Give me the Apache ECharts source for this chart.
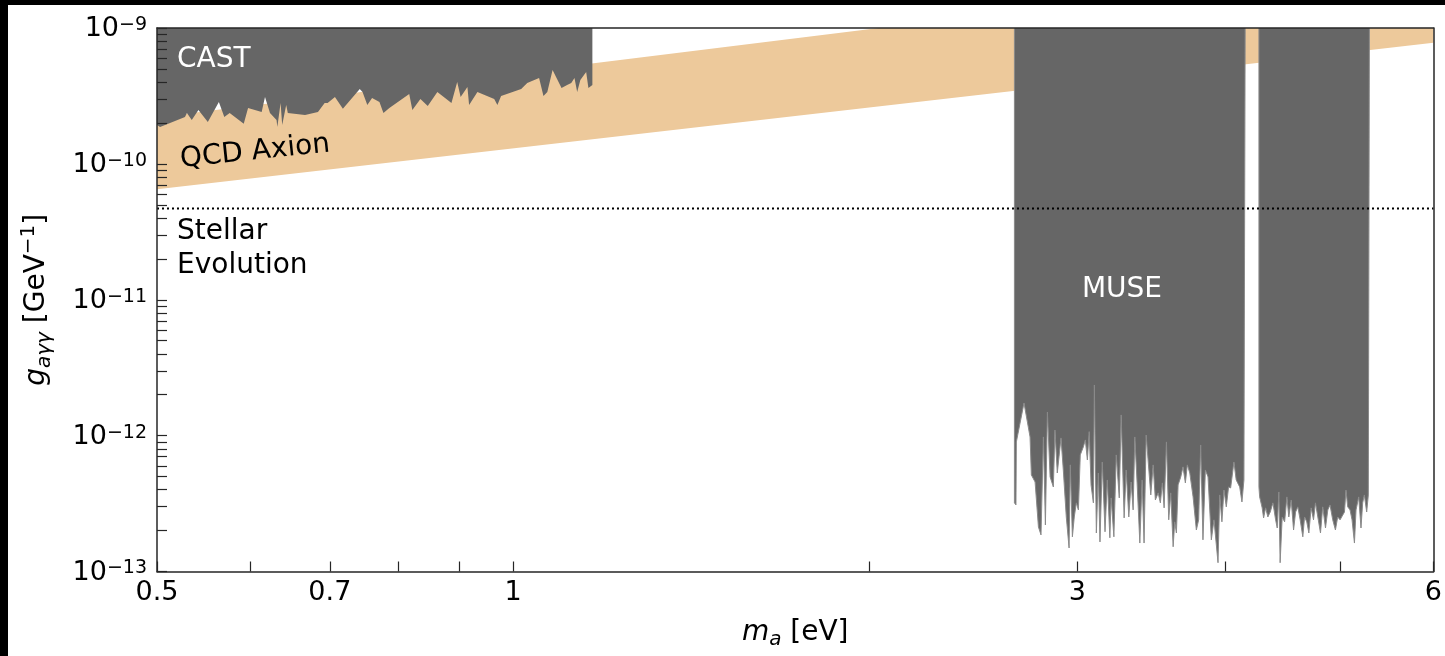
<!DOCTYPE html>
<html lang="en">
<head>
<meta charset="UTF-8">
<title>Axion limits</title>
<script src="https://cdn.jsdelivr.net/npm/echarts@6/dist/echarts.min.js"></script>
<style>
    html, body { margin: 0; padding: 0; background: #000; }
    #main { position: absolute; left: 8px; top: 5px; width: 1437px; height: 651px; background: #fff; }
</style>
</head>
<body>
<div id="main"></div>
<script>
// CAST lower edge: mass [eV], coupling [x1e-10 GeV^-1]
var castMass = [0.5, 0.503, 0.528, 0.530, 0.535, 0.542, 0.552, 0.564, 0.570, 0.576,
    0.592, 0.597, 0.613, 0.617, 0.623, 0.631, 0.632, 0.636, 0.638, 0.643,
    0.645, 0.667, 0.684, 0.693, 0.697, 0.707, 0.718, 0.742, 0.746, 0.753,
    0.760, 0.771, 0.777, 0.786, 0.817, 0.822, 0.835, 0.847, 0.863, 0.887,
    0.897, 0.903, 0.915, 0.918, 0.933, 0.964, 0.970, 0.977, 1.016, 1.028,
    1.052, 1.061, 1.069, 1.080, 1.099, 1.111, 1.120, 1.127, 1.133, 1.140,
    1.153, 1.158, 1.167];
var castG = [1.93, 1.87, 2.21, 2.37, 2.10, 2.49, 2.03, 2.85, 2.21, 2.37,
    1.97, 2.58, 2.41, 3.11, 2.37, 2.10, 1.87, 2.81, 1.93, 2.71,
    2.37, 2.29, 2.41, 2.81, 2.81, 3.11, 2.54, 3.56, 3.38, 2.71,
    3.05, 2.85, 2.37, 2.58, 3.27, 2.49, 3.00, 2.67, 3.38, 2.81,
    4.01, 3.11, 3.68, 2.71, 3.38, 3.00, 2.71, 3.16, 3.56, 3.94,
    4.29, 3.16, 3.38, 4.91, 3.62, 3.81, 3.94, 4.29, 3.38, 4.14,
    4.75, 3.62, 3.81];

// MUSE lower edge, first window: mass [eV], coupling [x1e-13 GeV^-1]
var museAMass = [2.654, 2.662, 2.664, 2.704, 2.736, 2.743, 2.763, 2.781, 2.795, 2.808,
    2.819, 2.830, 2.845, 2.863, 2.872, 2.885, 2.906, 2.919, 2.936, 2.952,
    2.959, 2.971, 2.982, 2.994, 3.006, 3.017, 3.035, 3.047, 3.059, 3.070,
    3.081, 3.095, 3.101, 3.113, 3.125, 3.135, 3.149, 3.166, 3.180, 3.196,
    3.204, 3.221, 3.236, 3.255, 3.267, 3.286, 3.299, 3.316, 3.331, 3.344,
    3.355, 3.370, 3.388, 3.403, 3.416, 3.430, 3.448, 3.461, 3.477, 3.492,
    3.511, 3.526, 3.540, 3.552, 3.568, 3.584, 3.598, 3.615, 3.626, 3.638,
    3.650, 3.669, 3.685, 3.702, 3.716, 3.734, 3.758, 3.782, 3.799, 3.814,
    3.831, 3.849, 3.869, 3.894, 3.914, 3.932, 3.945, 3.958, 3.975, 3.991,
    4.009, 4.027, 4.043, 4.069, 4.087, 4.115, 4.133, 4.149, 4.159];
var museAG = [3.20, 3.09, 8.99, 17.4, 9.78, 5.14, 4.56, 2.13, 1.86, 9.78,
    2.20, 14.9, 4.97, 4.19, 11.0, 5.31, 9.62, 5.59, 2.52, 1.49,
    6.09, 1.80, 2.52, 3.20, 2.84, 7.21, 8.26, 9.30, 6.62, 10.7,
    4.34, 3.20, 23.6, 1.92, 5.31, 1.65, 6.40, 1.96, 4.72, 1.77,
    3.48, 1.80, 7.21, 3.48, 14.2, 2.48, 5.59, 2.52, 4.56, 2.84,
    9.78, 4.49, 1.62, 4.72, 1.62, 10.1, 5.59, 3.66, 6.09, 3.36,
    3.79, 3.20, 4.49, 2.94, 8.99, 2.40, 3.79, 1.52, 2.32, 1.92,
    4.34, 4.97, 5.89, 4.49, 6.09, 5.31, 3.54, 2.02, 2.40, 8.54,
    1.71, 5.59, 4.97, 1.71, 2.40, 1.57, 1.16, 3.66, 2.32, 3.98,
    2.99, 4.19, 4.12, 6.40, 4.72, 4.19, 3.25, 4.72, 4.72];

// MUSE second window
var museBMass = [4.272, 4.278, 4.299, 4.311, 4.328, 4.347, 4.367, 4.390, 4.413, 4.427,
    4.441, 4.452, 4.470, 4.491, 4.511, 4.528, 4.549, 4.570, 4.588, 4.608,
    4.629, 4.653, 4.669, 4.689, 4.708, 4.729, 4.751, 4.769, 4.791, 4.816,
    4.837, 4.863, 4.885, 4.906, 4.932, 4.958, 4.980, 5.003, 5.022, 5.046,
    5.061, 5.078, 5.101, 5.121, 5.145, 5.161, 5.188, 5.211, 5.228, 5.245,
    5.269, 5.286, 5.297];
var museBG = [4.19, 3.54, 2.94, 2.48, 2.94, 2.52, 2.74, 3.20, 2.40, 2.09,
    3.85, 1.16, 2.52, 2.32, 3.54, 2.52, 3.36, 2.02, 2.74, 2.99,
    2.40, 1.80, 2.52, 2.32, 1.92, 2.94, 2.40, 3.20, 2.52, 1.92,
    2.99, 2.09, 2.84, 3.09, 2.40, 2.02, 2.52, 2.40, 2.40, 2.74,
    3.98, 2.99, 2.84, 2.40, 1.62, 2.84, 3.54, 2.09, 3.20, 3.66,
    2.74, 3.66, 3.66];

// QCD axion band edges
var qcdMass = [0.5, 6];
var qcdLow = [6.5e-11, 7.8e-10];
var qcdHigh = [2.2e-10, 3.2e-9];

// stellar evolution bound
var stellarMass = [0.5, 6];
var stellarG = 4.7e-11;

var xRange = [0.5, 6];
var yRange = [1e-13, 1e-9];
var xTickValues = [0.5, 0.6, 0.7, 0.8, 0.9, 1, 2, 3, 4, 5, 6];
var xLabelValues = [0.5, 0.7, 1, 3, 6];
var yLabelExps = [-13, -12, -11, -10, -9];
var yTickMantissas = [1, 2, 3, 4, 5, 6, 7, 8, 9];

var FONT = 'DejaVu Sans';
var GREY = '#666666';
var AXIS = '#262626';

function lg(v) { return Math.log10(v); }
function pairs(ms, gs, unit) {
    return ms.map(function (m, i) { return [lg(m), lg(gs[i] * unit)]; });
}
function withTop(pts) {
    var top = lg(yRange[1]);
    return [[pts[0][0], top]].concat(pts, [[pts[pts.length - 1][0], top]]);
}

var yTicks = [];
yLabelExps.forEach(function (e) {
    yTickMantissas.forEach(function (k) {
        var v = e + lg(k);
        if (v <= lg(yRange[1]) + 1e-9) yTicks.push(v);
    });
});

var myChart = echarts.init(document.getElementById('main'));

var spine = {show: true, onZero: false, lineStyle: {color: AXIS, width: 1.5}};

option = {
    animation: false,
    backgroundColor: '#fff',
    grid: {left: 149, right: 8.5, top: 23, bottom: 84.5},
    xAxis: [{
        type: 'value', min: lg(xRange[0]), max: lg(xRange[1]), position: 'bottom', z: 10,
        axisLine: spine,
        axisTick: {show: true, inside: true, length: 10, customValues: xTickValues.map(lg),
            lineStyle: {color: AXIS, width: 1.2}},
        axisLabel: {
            customValues: xLabelValues.map(lg), margin: 8, color: '#000', fontSize: 27, fontFamily: FONT,
            formatter: function (v) { return String(parseFloat(Math.pow(10, v).toPrecision(3))); }
        },
        splitLine: {show: false},
        name: '{i|m}{sub|a}{n| [eV]}', nameLocation: 'middle', nameGap: 44,
        nameTextStyle: {
            fontFamily: FONT, fontSize: 28, color: '#000',
            rich: {
                i: {fontFamily: FONT, fontSize: 28, fontStyle: 'italic', color: '#000', lineHeight: 34},
                sub: {fontFamily: FONT, fontSize: 20, fontStyle: 'italic', color: '#000', lineHeight: 20, verticalAlign: 'bottom'},
                n: {fontFamily: FONT, fontSize: 28, color: '#000', lineHeight: 34}
            }
        }
    }, {
        type: 'value', min: lg(xRange[0]), max: lg(xRange[1]), position: 'top', z: 10,
        axisLine: spine, axisTick: {show: false}, axisLabel: {show: false}, splitLine: {show: false}
    }],
    yAxis: [{
        type: 'value', min: lg(yRange[0]), max: lg(yRange[1]), position: 'left', z: 10,
        axisLine: spine,
        axisTick: {show: true, inside: true, length: 10, customValues: yTicks,
            lineStyle: {color: AXIS, width: 1.2}},
        axisLabel: {
            customValues: yLabelExps, margin: 10, color: '#000', padding: [2, 0, 0, 0],
            formatter: function (v) { return '{b|10}{s|\u2212' + Math.round(-v) + '}'; },
            rich: {
                b: {fontFamily: FONT, fontSize: 27, color: '#000', lineHeight: 27, padding: [4, 0, 0, 0], verticalAlign: 'bottom'},
                s: {fontFamily: FONT, fontSize: 19, color: '#000', lineHeight: 19, verticalAlign: 'top'}
            }
        },
        splitLine: {show: false},
        name: '{i|g}{sub|a\u03b3\u03b3}{n| [GeV}{sup|\u22121}{n|]}', nameLocation: 'middle', nameGap: 102,
        nameTextStyle: {
            fontFamily: FONT, fontSize: 28, color: '#000',
            rich: {
                i: {fontFamily: FONT, fontSize: 28, fontStyle: 'italic', color: '#000', lineHeight: 36},
                sub: {fontFamily: FONT, fontSize: 20, fontStyle: 'italic', color: '#000', lineHeight: 20, verticalAlign: 'bottom'},
                n: {fontFamily: FONT, fontSize: 28, color: '#000', lineHeight: 36},
                sup: {fontFamily: FONT, fontSize: 20, color: '#000', lineHeight: 20, verticalAlign: 'top'}
            }
        }
    }, {
        type: 'value', min: lg(yRange[0]), max: lg(yRange[1]), position: 'right', z: 10,
        axisLine: spine, axisTick: {show: false}, axisLabel: {show: false}, splitLine: {show: false}
    }],
    series: [
        {
            // QCD axion band
            type: 'custom', clip: true, z: 1, silent: true, data: [0],
            renderItem: function (params, api) {
                var pts = [];
                qcdMass.forEach(function (m, i) { pts.push(api.coord([lg(m), lg(qcdLow[i])])); });
                for (var i = qcdMass.length - 1; i >= 0; i--) pts.push(api.coord([lg(qcdMass[i]), lg(qcdHigh[i])]));
                return {type: 'polygon', shape: {points: pts}, style: {fill: '#edc99b'}};
            }
        },
        {
            type: 'line', z: 2, silent: true, symbol: 'none',
            data: pairs(castMass, castG, 1e-10),
            lineStyle: {width: 0, color: GREY},
            areaStyle: {origin: 'end', color: GREY, opacity: 1}
        },
        {
            type: 'line', z: 2, silent: true, symbol: 'none',
            data: withTop(pairs(museAMass, museAG, 1e-13)),
            lineStyle: {width: 1, color: '#8a8a8a'},
            areaStyle: {origin: 'end', color: GREY, opacity: 1}
        },
        {
            type: 'line', z: 2, silent: true, symbol: 'none',
            data: withTop(pairs(museBMass, museBG, 1e-13)),
            lineStyle: {width: 1, color: '#8a8a8a'},
            areaStyle: {origin: 'end', color: GREY, opacity: 1}
        },
        {
            type: 'line', z: 3, silent: true, symbol: 'none',
            data: stellarMass.map(function (m) { return [lg(m), lg(stellarG)]; }),
            lineStyle: {width: 2, color: '#000', type: [2, 3]}
        }
    ],
    graphic: [
        {type: 'text', x: 169, y: 55, z: 20, style: {text: 'CAST', fill: '#fff', font: '28px "DejaVu Sans"',
            align: 'left', verticalAlign: 'middle', textAlign: 'left', textVerticalAlign: 'middle'}},
        {type: 'text', x: 247, y: 147, rotation: 0.105, z: 20, style: {text: 'QCD Axion', fill: '#000', font: '28px "DejaVu Sans"',
            align: 'center', verticalAlign: 'middle', textAlign: 'center', textVerticalAlign: 'middle'}},
        {type: 'text', x: 169, y: 227, z: 20, style: {text: 'Stellar', fill: '#000', font: '28px "DejaVu Sans"',
            align: 'left', verticalAlign: 'middle', textAlign: 'left', textVerticalAlign: 'middle'}},
        {type: 'text', x: 169, y: 261, z: 20, style: {text: 'Evolution', fill: '#000', font: '28px "DejaVu Sans"',
            align: 'left', verticalAlign: 'middle', textAlign: 'left', textVerticalAlign: 'middle'}},
        {type: 'text', x: 1114, y: 285, z: 20, style: {text: 'MUSE', fill: '#fff', font: '28px "DejaVu Sans"',
            align: 'center', verticalAlign: 'middle', textAlign: 'center', textVerticalAlign: 'middle'}}
    ]
};

myChart.setOption(option);
</script>
</body>
</html>
